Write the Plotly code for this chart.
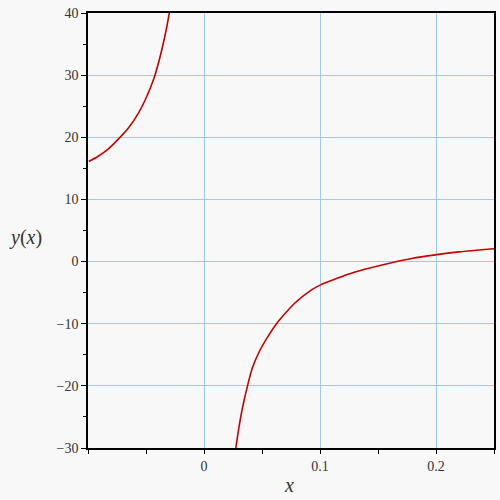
import plotly.graph_objects as go

# Left branch (x < 0)
x_left = [-0.0993, -0.0912, -0.0826, -0.0739, -0.0652, -0.0565, -0.0507, -0.0435,
          -0.0392, -0.0349, -0.0319, -0.0292]
y_left = [16.1, 16.95, 18.1, 19.7, 21.5, 23.9, 26.0, 29.3,
          32.0, 35.3, 37.95, 40.8]

# Right branch (x > 0)
x_right = [0.0273, 0.0302, 0.0331, 0.0375, 0.0418, 0.0475, 0.0540, 0.0625, 0.0707,
           0.0779, 0.0924, 0.1005, 0.1126, 0.1242, 0.1386, 0.1516, 0.1617, 0.1791,
           0.1993, 0.2196, 0.2500]
y_right = [-30.2, -26.6, -23.6, -20.0, -17.05, -14.55, -12.4, -10.0, -8.2,
           -6.75, -4.6, -3.75, -2.85, -2.05, -1.25, -0.62, -0.18, 0.5,
           1.08, 1.56, 2.07]

x_ticks = [-0.1, 0, 0.1, 0.2]
x_ticktext = ["", "0", "0.1", "0.2"]
x_minor = [-0.05, 0.05, 0.15, 0.25]
y_ticks = [-30, -20, -10, 0, 10, 20, 30, 40]
y_minor = [-25, -15, -5, 5, 15, 25, 35]

line_color = "#c80000"
grid_color = "#99c9f7"
bg = "#f8f8f8"
font_family = "Liberation Serif"
text_color = "#333333"

fig = go.Figure()
for xs, ys in ((x_left, y_left), (x_right, y_right)):
    fig.add_trace(go.Scatter(x=xs, y=ys, mode="lines",
                             line=dict(color=line_color, width=1.6, shape="spline", smoothing=0.8),
                             showlegend=False, hoverinfo="skip"))

W, H = 500, 500
ML, MR, MT, MB = 88, 6, 13, 52

fig.update_layout(
    template="none",
    width=W, height=H,
    margin=dict(l=ML, r=MR, t=MT, b=MB, autoexpand=False),
    paper_bgcolor=bg, plot_bgcolor=bg,
    font=dict(family=font_family, size=14, color=text_color),
    xaxis=dict(range=[-0.1, 0.25], tickmode="array", tickvals=x_ticks, ticktext=x_ticktext,
               showgrid=True, gridcolor=grid_color, gridwidth=1, zeroline=False,
               showline=True, linecolor="black", linewidth=1.5, mirror=True,
               ticks="outside", ticklen=4, tickcolor="black", tickwidth=1,
               ticklabeloverflow="allow",
               minor=dict(tickmode="array", tickvals=x_minor, ticks="outside", ticklen=4,
                          tickcolor="black", showgrid=False),
               tickfont=dict(size=14, family=font_family, color=text_color)),
    yaxis=dict(range=[-30, 40], tickmode="array", tickvals=y_ticks,
               showgrid=True, gridcolor=grid_color, gridwidth=1, zeroline=False,
               showline=True, linecolor="black", linewidth=1.5, mirror=True,
               ticks="outside", ticklen=5, tickcolor="black", tickwidth=1,
               ticklabeloverflow="allow",
               minor=dict(tickmode="array", tickvals=y_minor,
                          ticks="outside", ticklen=3, tickcolor="black", showgrid=False),
               tickfont=dict(size=14, family=font_family, color=text_color)),
)

plot_w = W - ML - MR
plot_h = H - MT - MB

def px_to_paper(px, py):
    return ((px - ML) / plot_w, (H - MB - py) / plot_h)

ax, ay = px_to_paper(25, 238)
bx, by = px_to_paper(289, 485)
fig.add_annotation(text="<i>y</i>(<i>x</i>)", x=ax, y=ay, xref="paper", yref="paper",
                   xanchor="center", yanchor="middle",
                   showarrow=False, font=dict(size=20, family=font_family, color=text_color))
fig.add_annotation(text="<i>x</i>", x=bx, y=by, xref="paper", yref="paper",
                   xanchor="center", yanchor="middle",
                   showarrow=False, font=dict(size=20, family=font_family, color=text_color))

fig.write_html("out.html", config={"displayModeBar": False},
               post_script="document.body.style.margin='0';document.body.style.overflow='hidden';")
